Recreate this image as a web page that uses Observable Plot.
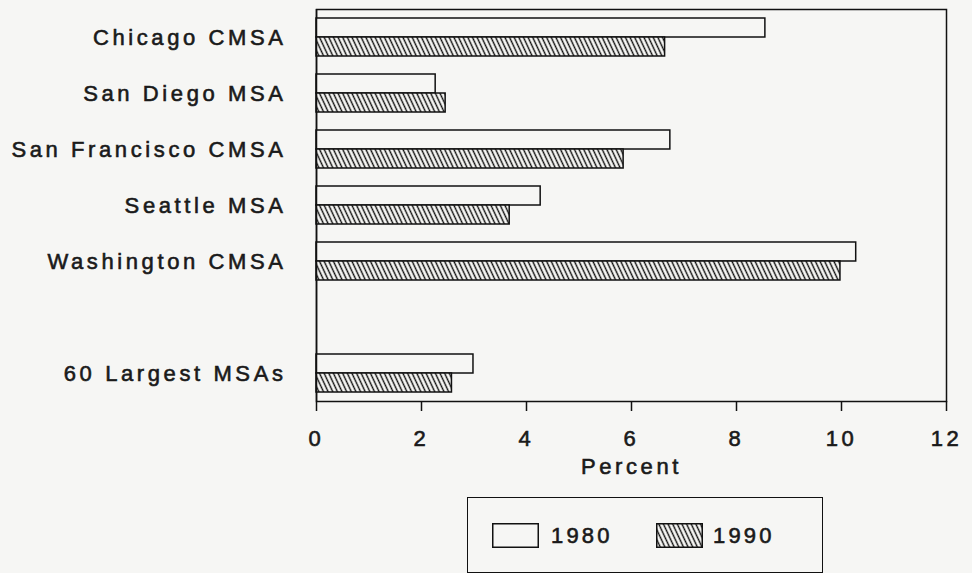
<!DOCTYPE html>
<html>
<head>
<meta charset="utf-8">
<script src="https://cdn.jsdelivr.net/npm/d3@7"></script>
<script src="https://cdn.jsdelivr.net/npm/@observablehq/plot@0.6"></script>
<style>
  html, body { margin: 0; padding: 0; background: #f6f6f4; }
  #wrap { position: relative; width: 972px; height: 573px; overflow: hidden; background: #f6f6f4; }
  #chart svg { display: block; }
  #chart svg text { stroke: #1a1a1a; stroke-width: 0.6px; letter-spacing: 3.6px; }
  #legend { position: absolute; left: 467px; top: 497px; width: 356px; height: 76px;
            border: 1.5px solid #111; box-sizing: border-box;
            font-family: "Liberation Sans", Arial, sans-serif; font-size: 22px; letter-spacing: 3.2px;
            color: #1a1a1a; -webkit-text-stroke: 0.6px #1a1a1a; }
  .sw { position: absolute; top: 25px; width: 47px; height: 25px; }
  .lt { position: absolute; top: 25px; height: 25px; line-height: 25px; }
</style>
</head>
<body>
<div id="wrap">
  <div id="chart"></div>
  <div id="legend">
    <svg class="sw" style="left:24px" width="47" height="25"><rect x="0.75" y="0.75" width="45.5" height="23.5" fill="#f6f6f4" stroke="#111" stroke-width="1.5"/></svg>
    <span class="lt" style="left:83px">1980</span>
    <svg class="sw" style="left:188px" width="47" height="25">
      <defs>
        <pattern id="hatchL" patternUnits="userSpaceOnUse" width="4.2" height="12" patternTransform="rotate(-25)">
          <rect width="4.2" height="12" fill="#f6f6f4"/>
          <line x1="2.1" y1="-1" x2="2.1" y2="13" stroke="#111" stroke-width="1.4"/>
        </pattern>
      </defs>
      <rect x="0.75" y="0.75" width="45.5" height="23.5" fill="url(#hatchL)" stroke="#111" stroke-width="1.5"/>
    </svg>
    <span class="lt" style="left:245px">1990</span>
  </div>
</div>
<script>
// ---- data ----
const cities = ["Chicago CMSA", "San Diego MSA", "San Francisco CMSA", "Seattle MSA", "Washington CMSA", "60 Largest MSAs"];
const values1980 = [8.55, 2.27, 6.74, 4.27, 10.28, 2.99];
const values1990 = [6.64, 2.46, 5.85, 3.68, 9.98, 2.58];
const years = ["1980", "1990"];
const xTicks = [0, 2, 4, 6, 8, 10, 12];
const xLabel = "Percent";

// category slots, with an empty slot before the summary row
const slots = [...cities.slice(0, 5), " ", cities[5]];

const rows1980 = cities.map((c, i) => ({city: c, year: years[0], value: values1980[i]}));
const rows1990 = cities.map((c, i) => ({city: c, year: years[1], value: values1990[i]}));

const bg = "#f6f6f4";
const ink = "#111";

const chart = Plot.plot({
  width: 972,
  height: 490,
  marginLeft: 316,
  marginRight: 26,
  marginTop: 6,
  marginBottom: 87,
  style: {
    background: bg,
    color: "#1a1a1a",
    fontFamily: "'Liberation Sans', Arial, sans-serif",
    fontSize: "22px",
    overflow: "visible"
  },
  x: {domain: [0, 12]},
  y: {domain: years, axis: null, paddingInner: 0, paddingOuter: 0.449},
  fy: {domain: slots, padding: 0, axis: null, label: null},
  marks: [
    // left edge of the plot area, one segment per slot (keeps every slot present)
    Plot.ruleX(slots, {x: 0, fy: (d) => d, stroke: ink, strokeWidth: 1.5}),
    Plot.barX(rows1980, {x: "value", y: "year", fy: "city", fill: bg, stroke: ink, strokeWidth: 1.5}),
    Plot.barX(rows1990, {x: "value", y: "year", fy: "city", fill: "url(#hatch)", stroke: ink, strokeWidth: 1.5}),
    Plot.axisFy({anchor: "left", tickSize: 0, tickPadding: 30, label: null, fontSize: 22}),
    Plot.axisX({anchor: "bottom", ticks: xTicks, tickSize: 10, tickPadding: 19, stroke: ink, strokeWidth: 1.5,
                label: xLabel, labelAnchor: "center", labelArrow: "none", labelOffset: 72, fontSize: 22}),
    Plot.frame({facet: "super", stroke: ink, strokeWidth: 1.5})
  ]
});

const defs = document.createElementNS("http://www.w3.org/2000/svg", "defs");
defs.innerHTML = `<pattern id="hatch" patternUnits="userSpaceOnUse" width="4.2" height="12" patternTransform="rotate(-25)">
  <rect width="4.2" height="12" fill="${bg}"/>
  <line x1="2.1" y1="-1" x2="2.1" y2="13" stroke="${ink}" stroke-width="1.4"/>
</pattern>`;
chart.insertBefore(defs, chart.firstChild);
document.getElementById("chart").appendChild(chart);
</script>
</body>
</html>
